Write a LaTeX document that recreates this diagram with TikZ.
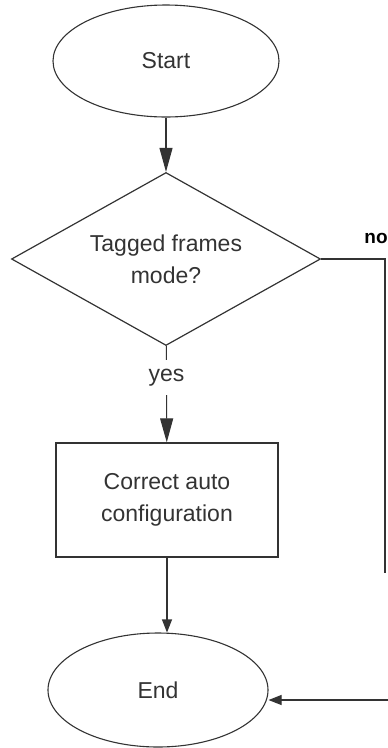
\documentclass[tikz,border=0pt]{standalone}
\usepackage{fontspec}
\setmainfont{Liberation Sans}
\usepackage{tikz}
\usetikzlibrary{shapes.geometric}
\usetikzlibrary{arrows.meta}
\definecolor{trait}{HTML}{333333}

\begin{document}
\begin{tikzpicture}[x=1pt,y=-1pt,
    every node/.style={text=trait, font=\fontsize{23}{32}\selectfont, align=center},
    terminal/.style={draw=trait, ellipse, line width=1.1pt, inner sep=0pt},
    decision/.style={draw=trait, diamond, line width=1.2pt, inner sep=0pt, aspect=1.77},
    process/.style={draw=trait, rectangle, line width=1.3pt, inner sep=0pt},
    longarrow/.style={draw=trait, line width=1.1pt, -{Triangle[length=24pt,width=13pt]}},
    shortarrow/.style={draw=trait, line width=1.1pt, -{Triangle[length=13pt,width=10pt]}}]
            \useasboundingbox (0,0) rectangle (388,748);
            \node[terminal, minimum width=226pt, minimum height=112pt] (start) at (166,61) {Start};
            \node[decision, minimum width=309pt, minimum height=173pt] (tagged) at (166,259) {Tagged frames\\mode?};
            \node[process, minimum width=222pt, minimum height=114pt] (autocfg) at (167,500) {Correct auto\\configuration};
            \node[terminal, minimum width=220pt, minimum height=114pt] (end) at (158,690) {End};
            \node[font=\fontsize{19}{22}\selectfont\bfseries, text=black] (nolabel) at (376,238) {no};
            \coordinate (nostop) at (385,573);
            \coordinate (noback) at (388,700);
            \draw[longarrow] (start) -- (tagged);
            \draw[longarrow] (tagged) -- node[pos=0.33, fill=white, inner sep=0pt, minimum height=35pt] (yes) {yes} (autocfg);
            \draw[shortarrow] (autocfg.south) -- (autocfg.south |- end.north);
            \draw[draw=trait, line width=1.1pt] (tagged.east) -| (nostop);
            \draw[shortarrow] (noback) -- (noback -| end.east);
        \end{tikzpicture}
\end{document}
